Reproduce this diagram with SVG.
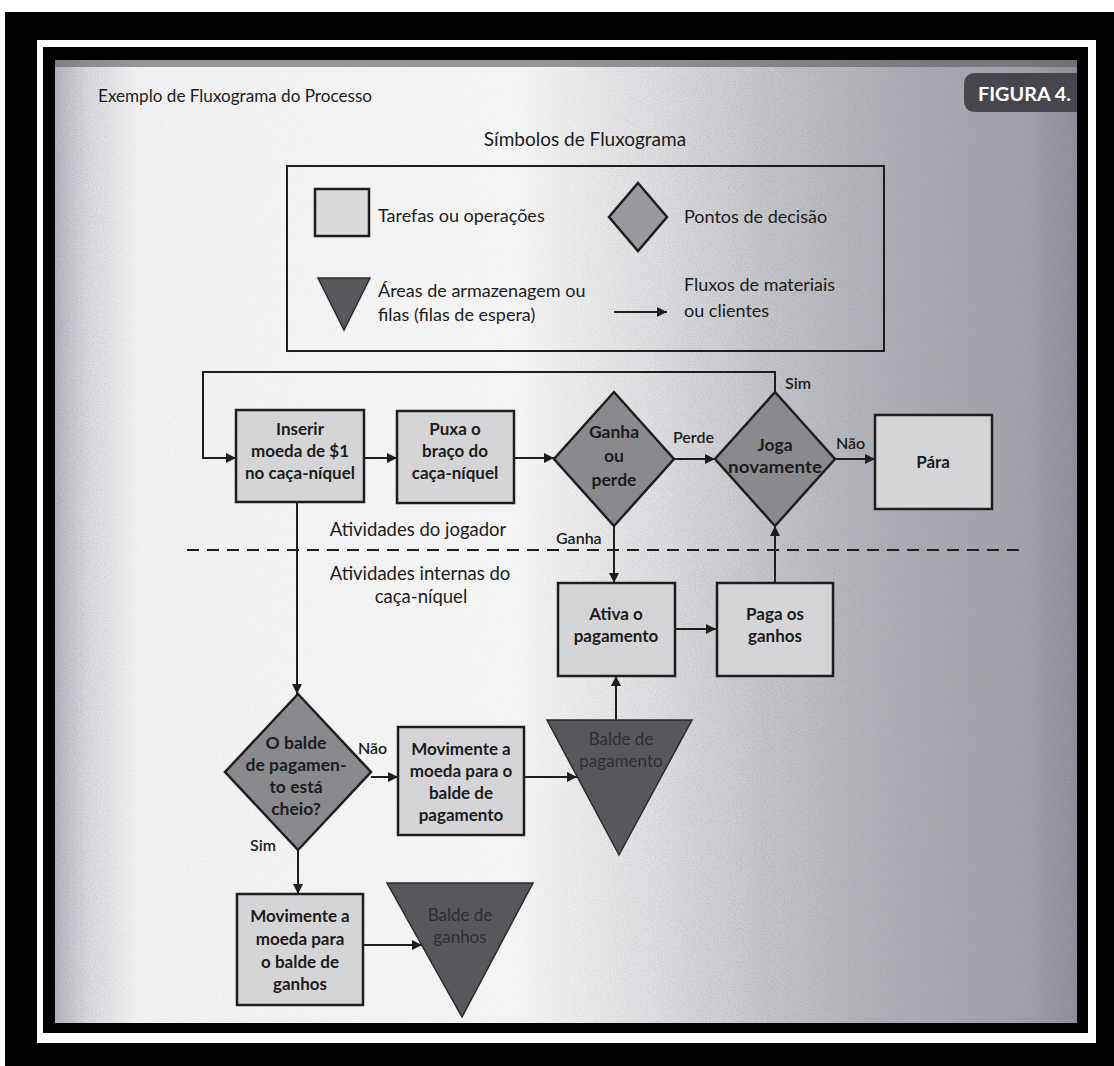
<svg xmlns="http://www.w3.org/2000/svg" width="1114" height="1066" viewBox="0 0 1114 1066">
<defs>
  <linearGradient id="paper" gradientUnits="userSpaceOnUse" x1="55" y1="0" x2="1077" y2="0">
    <stop offset="0" stop-color="#b4b4bc"/>
    <stop offset="0.03" stop-color="#dadade"/>
    <stop offset="0.08" stop-color="#f3f3f4"/>
    <stop offset="0.45" stop-color="#f6f6f6"/>
    <stop offset="0.58" stop-color="#e2e2e4"/>
    <stop offset="0.70" stop-color="#c6c6ca"/>
    <stop offset="0.82" stop-color="#aeaeb4"/>
    <stop offset="0.95" stop-color="#a0a0a6"/>
    <stop offset="1" stop-color="#8a8a90"/>
  </linearGradient>
  <linearGradient id="nfade" gradientUnits="userSpaceOnUse" x1="55" y1="0" x2="1077" y2="0">
    <stop offset="0" stop-color="#fff" stop-opacity="0.8"/>
    <stop offset="0.08" stop-color="#fff" stop-opacity="0.15"/>
    <stop offset="0.45" stop-color="#fff" stop-opacity="0.1"/>
    <stop offset="0.7" stop-color="#fff" stop-opacity="0.7"/>
    <stop offset="1" stop-color="#fff" stop-opacity="1"/>
  </linearGradient>
  <mask id="nmask" maskUnits="userSpaceOnUse" x="55" y="60" width="1022" height="963">
    <rect x="55" y="60" width="1022" height="963" fill="url(#nfade)"/>
  </mask>
  <filter id="noise" x="0" y="0" width="100%" height="100%" filterUnits="objectBoundingBox">
    <feTurbulence type="fractalNoise" baseFrequency="0.85" numOctaves="2" seed="7"/>
    <feColorMatrix type="matrix" values="0 0 0 0 0.35  0 0 0 0 0.35  0 0 0 0 0.42  0 0 0 1.6 -0.62"/>
  </filter>
  <marker id="ah" viewBox="0 0 10 10" refX="10" refY="5" markerWidth="11" markerHeight="10" markerUnits="userSpaceOnUse" orient="auto">
    <path d="M0,0 L10,5 L0,10 z" fill="#1e1e1e"/>
  </marker>
</defs>
<style>
  .box{fill:#d5d5d8;stroke:#1e1e1e;stroke-width:2.5}
  .dec{fill:#8a8a8e;stroke:#1e1e1e;stroke-width:2.5}
  .tri{fill:#58585c;stroke:#2a2a2a;stroke-width:1.5}
  .t{font-family:Lato,"Liberation Sans",sans-serif;fill:#1c1c1c;font-size:16px}
  .hd{font-size:18px}
  .ttl{font-size:19px;text-anchor:middle}
  .fig{font-size:19px;font-weight:bold;fill:#ffffff}
  .lg{font-size:18px}
  .lane{font-size:18.5px;text-anchor:middle}
  .b{font-weight:bold;text-anchor:middle;font-size:17px}
  .d{font-size:17.5px}
  .c{text-anchor:middle}
  .m{font-weight:600}
  .dk{fill:#2e2e31;font-size:17px}
  .edge{stroke:#1e1e1e;stroke-width:2;fill:none}
  .arr{marker-end:url(#ah)}
</style>

<!-- frame -->
<rect x="0" y="0" width="1114" height="1066" fill="#ffffff"/>
<rect x="5" y="12" width="1109" height="1054" fill="#000000"/>
<rect x="37" y="40" width="1059" height="1003" fill="#ffffff"/>
<rect x="43" y="47" width="1045" height="986" fill="#000000"/>
<rect x="55" y="60" width="1022" height="963" fill="url(#paper)"/>
<rect x="55" y="60" width="1022" height="963" filter="url(#noise)" mask="url(#nmask)"/>
<rect x="55" y="60" width="1022" height="7" fill="#5a5a60" opacity="0.6"/>

<!-- header -->
<g id="header">
  <text class="t hd" x="98" y="102" textLength="274" lengthAdjust="spacingAndGlyphs">Exemplo de Fluxograma do Processo</text>
  <path d="M1077,73 H976 Q964,73 964,85 V100 Q964,112 976,112 H1077 Z" fill="#46464c"/>
  <text class="t fig" x="978" y="101" textLength="93" lengthAdjust="spacingAndGlyphs">FIGURA 4.</text>
</g>

<!-- legend -->
<g id="legend">
  <text class="t ttl" x="585" y="146">Símbolos de Fluxograma</text>
  <rect x="287" y="166" width="597" height="185" fill="none" stroke="#1e1e1e" stroke-width="2"/>
  <rect x="315" y="189" width="54" height="47" fill="#dcdcde" stroke="#1e1e1e" stroke-width="2.5"/>
  <text class="t lg" x="378" y="222">Tarefas ou operações</text>
  <polygon points="638,183 667,217 638,251 609,217" fill="#9a9a9e" stroke="#1e1e1e" stroke-width="2.5"/>
  <text class="t lg" x="684" y="223">Pontos de decisão</text>
  <polygon points="318,278 370,278 344,330" class="tri"/>
  <text class="t lg" x="378" y="297">Áreas de armazenagem ou</text>
  <text class="t lg" x="378" y="321">filas (filas de espera)</text>
  <line x1="614" y1="312" x2="667" y2="312" class="edge arr"/>
  <text class="t lg" x="684" y="291">Fluxos de materiais</text>
  <text class="t lg" x="684" y="317">ou clientes</text>
</g>

<!-- swimlane labels -->
<g id="lanes">
  <text class="t lane" x="418" y="536">Atividades do jogador</text>
  <line x1="187" y1="550" x2="1027" y2="550" stroke="#1e1e1e" stroke-width="2" stroke-dasharray="12 8"/>
  <text class="t lane" x="420" y="580">Atividades internas do</text>
  <text class="t lane" x="421" y="603">caça-níquel</text>
</g>

<!-- connectors -->
<g id="connectors">
  <path d="M775,392 V372 H203 V458 H236" class="edge arr"/>
  <path d="M364,458 H397" class="edge arr"/>
  <path d="M514,458 H554" class="edge arr"/>
  <path d="M674,459 H715" class="edge arr"/>
  <path d="M835,459 H875" class="edge arr"/>
  <path d="M614,526 V583" class="edge arr"/>
  <path d="M775,583 V526" class="edge arr"/>
  <path d="M675,629 H716" class="edge arr"/>
  <path d="M297,502 V694" class="edge arr"/>
  <path d="M371,777 H398" class="edge arr"/>
  <path d="M524,777 H577" class="edge arr"/>
  <path d="M616,720 V676" class="edge arr"/>
  <path d="M298,850 V894" class="edge arr"/>
  <path d="M363,945 H422" class="edge arr"/>
  <text class="t m" x="785" y="389">Sim</text>
  <text class="t m" x="673" y="443">Perde</text>
  <text class="t m" x="836" y="449">Não</text>
  <text class="t m" x="556" y="544">Ganha</text>
  <text class="t m" x="358" y="754">Não</text>
  <text class="t m" x="250" y="851">Sim</text>
</g>

<!-- nodes -->
<g id="inserir">
  <rect x="236" y="410" width="128" height="92" class="box"/>
  <text class="t b" x="300" y="435">Inserir</text>
  <text class="t b" x="300" y="457">moeda de $1</text>
  <text class="t b" x="300" y="479">no caça-níquel</text>
</g>
<g id="puxa">
  <rect x="397" y="411" width="117" height="92" class="box"/>
  <text class="t b" x="455" y="435">Puxa o</text>
  <text class="t b" x="455" y="457">braço do</text>
  <text class="t b" x="455" y="479">caça-níquel</text>
</g>
<g id="ganha">
  <polygon points="614,392 674,459 614,526 554,459" class="dec"/>
  <text class="t b d" x="614" y="438">Ganha</text>
  <text class="t b d" x="614" y="462">ou</text>
  <text class="t b d" x="614" y="486">perde</text>
</g>
<g id="joga">
  <polygon points="775,392 835,459 775,526 715,459" class="dec"/>
  <text class="t b d" x="775" y="451">Joga</text>
  <text class="t b d" x="775" y="473" textLength="94" lengthAdjust="spacingAndGlyphs">novamente</text>
</g>
<g id="para">
  <rect x="875" y="415" width="117" height="94" class="box"/>
  <text class="t b" x="933" y="468">Pára</text>
</g>
<g id="ativa">
  <rect x="558" y="583" width="117" height="93" class="box"/>
  <text class="t b" x="616" y="620">Ativa o</text>
  <text class="t b" x="616" y="642">pagamento</text>
</g>
<g id="paga">
  <rect x="717" y="583" width="116" height="93" class="box"/>
  <text class="t b" x="775" y="620">Paga os</text>
  <text class="t b" x="775" y="642">ganhos</text>
</g>
<g id="balde-cheio">
  <polygon points="298,694 371,772 298,850 225,772" class="dec"/>
  <text class="t b d" x="296" y="749">O balde</text>
  <text class="t b d" x="296" y="771">de pagamen-</text>
  <text class="t b d" x="296" y="793">to está</text>
  <text class="t b d" x="296" y="815">cheio?</text>
</g>
<g id="mov-pagamento">
  <rect x="398" y="727" width="126" height="108" class="box"/>
  <text class="t b" x="461" y="755">Movimente a</text>
  <text class="t b" x="461" y="777">moeda para o</text>
  <text class="t b" x="461" y="799">balde de</text>
  <text class="t b" x="461" y="821">pagamento</text>
</g>
<g id="balde-pagamento">
  <polygon points="547,720 692,720 619,855" class="tri"/>
  <text class="t c dk" x="621" y="745">Balde de</text>
  <text class="t c dk" x="621" y="767">pagamento</text>
</g>
<g id="mov-ganhos">
  <rect x="237" y="894" width="126" height="111" class="box"/>
  <text class="t b" x="300" y="922">Movimente a</text>
  <text class="t b" x="300" y="945">moeda para</text>
  <text class="t b" x="300" y="968">o balde de</text>
  <text class="t b" x="300" y="990">ganhos</text>
</g>
<g id="balde-ganhos">
  <polygon points="387,883 533,883 462,1017" class="tri"/>
  <text class="t c dk" x="460" y="921">Balde de</text>
  <text class="t c dk" x="460" y="943">ganhos</text>
</g>
</svg>
